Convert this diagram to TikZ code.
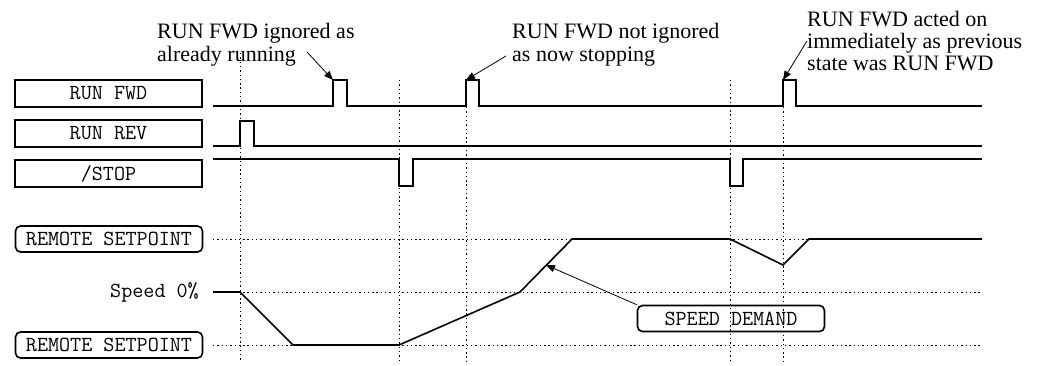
\documentclass[tikz,border=0pt]{standalone}
\usepackage{fontspec}
\setmainfont{Liberation Serif}
\usetikzlibrary{positioning, arrows.meta}

\begin{document}
\begin{tikzpicture}[
    x=1pt, y=-1pt,
    every node/.style={font=\ttfamily\fontsize{21.5}{24}\selectfont},
    lbl/.style={draw, line width=1.6pt, minimum width=187pt, minimum height=27pt, inner sep=0pt},
    rlbl/.style={lbl, rounded corners=5pt, minimum height=26pt},
    note/.style={align=left, inner sep=0pt, anchor=north west, font=\rmfamily\fontsize{22}{23}\selectfont},
    sig/.style={line width=1.6pt, line join=miter},
    grid/.style={line width=0.9pt, dash pattern=on 1.4pt off 2.9pt},
    arrow/.style={-{Triangle[length=9pt, width=7pt]}, line width=0.8pt}
]
\useasboundingbox (0,0) rectangle (1044,365);

% Signal labels on the left
\node[lbl] (fwd) at (108.5,93.5) {RUN FWD};
\node[lbl, below=11.4pt of fwd] (rev) {RUN REV};
\node[lbl, below=11.4pt of rev] (stop) {/STOP};
\node[rlbl] (sphi) at (109,239) {REMOTE SETPOINT};
\node[rlbl] (splo) at (109,345) {REMOTE SETPOINT};
\node[anchor=east, inner sep=0pt] (zero) at (199,292) {Speed 0\%};

% Dotted guide lines
\foreach \y in {239, 292, 345}
    \draw[grid] (213,\y) -- (980,\y);
\foreach \x/\t in {240/53, 399/80, 466/107, 730/80, 783/107}
    \draw[grid] (\x,\t) -- (\x,362);

% Digital inputs
\draw[sig] (213,106) -- (333,106) -- (333,80) -- (347,80) -- (347,106)
    -- (466,106) -- (466,80) -- (479,80) -- (479,106)
    -- (783,106) -- (783,80) -- (796,80) -- (796,106) -- (982,106);
\draw[sig] (213,146) -- (240,146) -- (240,121) -- (254,121) -- (254,146) -- (982,146);
\draw[sig] (213,159) -- (399,159) -- (399,186) -- (413,186) -- (413,159)
    -- (730,159) -- (730,186) -- (743,186) -- (743,159) -- (982,159);

% Speed demand
\draw[sig] (213,292) -- (240,292) -- (293,345) -- (399,345) -- (520,292)
    -- (572,239) -- (730,239) -- (783,265) -- (809,239) -- (982,239);
\node[rlbl] (sd) at (731,318.5) {SPEED DEMAND};
\coordinate (sdpt) at (546,265);
\draw[arrow] (sd.north west) -- (sdpt);

% Annotations
\node[note] (note1) at (157,23) {RUN FWD ignored as\\already running};
\node[note] (note2) at (512,23) {RUN FWD not ignored\\as now stopping};
\node[note, font=\rmfamily\fontsize{22}{22}\selectfont] (note3) at (807,11)
    {RUN FWD acted on\\immediately as previous\\state was RUN FWD};
\coordinate (tail1) at (307,52);
\coordinate (tail2) at (506,56);
\coordinate (pulse1) at (333,80);
\coordinate (pulse2) at (466,80);
\coordinate (pulse3) at (783,80);
\draw[arrow] (tail1) -- (pulse1);
\draw[arrow] (tail2) -- (pulse2);
\draw[arrow] (note3.west) -- (pulse3);

\end{tikzpicture}
\end{document}
